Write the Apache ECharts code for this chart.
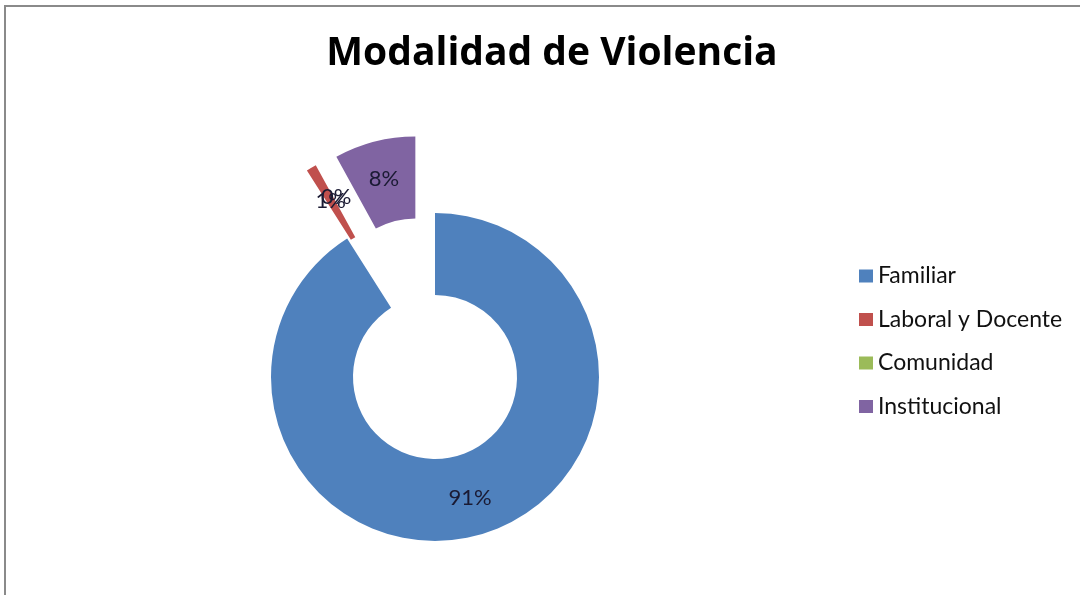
<!DOCTYPE html>
<html>
<head>
<meta charset="utf-8">
<script src="https://cdn.jsdelivr.net/npm/echarts@6/dist/echarts.min.js"></script>
<style>
html,body{margin:0;padding:0;background:#fff;}
#chart{width:1080px;height:595px;}
</style>
</head>
<body>
<div id="chart"></div>
<script>
const categories = ['Familiar', 'Laboral y Docente', 'Comunidad', 'Institucional'];
const values = [91, 1, 0, 8];
const exploded = [false, true, true, true];
const colors = ['#4F81BD', '#C0504D', '#9BBB59', '#8064A2'];
const titleText = 'Modalidad de Violencia';

const chart = echarts.init(document.getElementById('chart'), null, {renderer: 'canvas'});
const total = values.reduce((a, b) => a + b, 0);
chart.setOption({
  animation: false,
  backgroundColor: '#ffffff',
  title: {
    text: titleText,
    left: 547, top: 29, textAlign: 'center',
    textStyle: {fontFamily: 'Open Sans', fontWeight: 'bold', fontSize: 39, color: '#000'}
  },
  legend: {
    orient: 'vertical',
    left: 854, top: 259,
    itemWidth: 14, itemHeight: 13, itemGap: 19.5,
    icon: 'rect',
    selectedMode: false,
    textStyle: {fontFamily: 'Lato', fontSize: 23, lineHeight: 24, color: '#111', padding: [0, 0, 0, 0]},
    data: categories
  },
  graphic: [
    {type: 'rect', shape: {x: 4, y: 5, width: 1076, height: 2}, style: {fill: '#8a8a8a'}, silent: true},
    {type: 'rect', shape: {x: 4, y: 5, width: 2, height: 590}, style: {fill: '#8a8a8a'}, silent: true}
  ],
  series: [{
    type: 'pie',
    center: [435, 377],
    radius: [82, 164],
    startAngle: 90,
    clockwise: true,
    minShowLabelAngle: 0,
    selectedMode: 'multiple',
    selectedOffset: 79,
    avoidLabelOverlap: false,
    labelLayout: {hideOverlap: false},
    emphasis: {disabled: true},
    label: {
      show: true,
      position: 'inside',
      fontFamily: 'Lato',
      fontSize: 22,
      color: '#1a1a33',
      formatter: p => Math.round(p.value / total * 100) + '%'
    },
    labelLine: {show: false},
    data: categories.map((c, i) => ({
      name: c, value: values[i], selected: exploded[i],
      itemStyle: {color: colors[i]}
    }))
  }]
});
</script>
</body>
</html>
